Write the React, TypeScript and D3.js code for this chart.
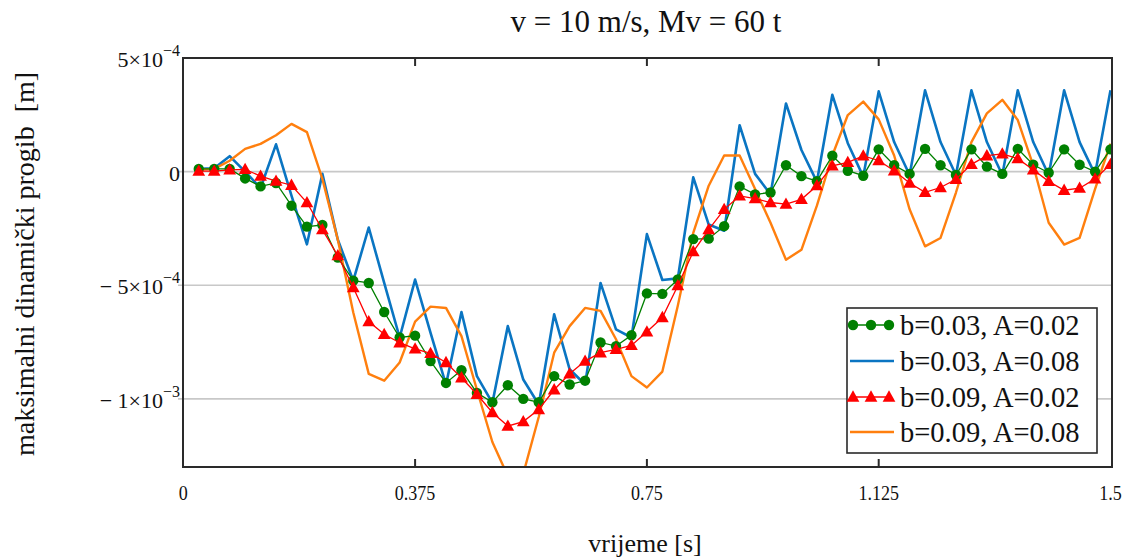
import React from "react";
import * as d3 from "d3";

// time samples: t = 0.025 * k, k = 1..60
const times: number[] = d3.range(1, 61).map((k) => +(0.025 * k).toFixed(3));

// values in units of 1e-4 m
const UNIT = 1e-4;
const b003A002: number[] = [
  0.12, 0.12, 0.12, -0.3, -0.65, -0.5, -1.5, -2.42, -2.35, -3.78,
  -4.8, -4.9, -6.18, -7.3, -7.22, -8.34, -9.3, -8.74, -9.74, -10.15,
  -9.4, -10.0, -10.15, -9.0, -9.37, -9.2, -7.52, -7.68, -7.2, -5.36,
  -5.38, -4.75, -2.97, -2.95, -2.4, -0.65, -1.0, -0.92, 0.28, -0.2,
  -0.42, 0.7, 0.04, -0.18, 0.98, 0.28, -0.1, 1.0, 0.28, -0.15,
  0.98, 0.22, -0.1, 1.0, 0.3, -0.05, 0.98, 0.3, 0.0, 0.98,
];
const b003A008: number[] = [
  0.12, 0.15, 0.68, 0.0, -0.72, 1.2, -1.06, -3.2, -0.1, -3.0,
  -4.8, -2.46, -4.9, -7.3, -4.75, -7.1, -9.37, -6.18, -9.0, -10.18,
  -6.8, -9.15, -10.25, -6.28, -8.7, -9.37, -4.9, -6.94, -7.3, -2.75,
  -4.77, -4.7, -0.25, -2.33, -2.6, 2.04, -0.1, -1.0, 3.0, 0.95,
  -0.45, 3.38, 1.25, -0.22, 3.53, 1.3, -0.15, 3.58, 1.3, -0.15,
  3.58, 1.3, -0.15, 3.58, 1.3, -0.15, 3.58, 1.3, -0.12, 3.58,
];
const b009A002: number[] = [
  0.02, 0.02, 0.08, 0.1, -0.2, -0.42, -0.6, -1.36, -2.55, -3.7,
  -5.1, -6.6, -7.16, -7.53, -7.8, -8.0, -8.4, -9.07, -9.8, -10.6,
  -11.2, -11.0, -10.47, -9.6, -8.9, -8.34, -7.97, -7.82, -7.65, -7.05,
  -6.42, -5.02, -3.52, -2.55, -1.66, -1.07, -1.19, -1.36, -1.43, -1.22,
  -0.62, 0.25, 0.41, 0.69, 0.49, 0.04, -0.5, -0.91, -0.7, -0.34,
  0.32, 0.7, 0.78, 0.57, 0.08, -0.43, -0.82, -0.73, -0.32, 0.32,
];
const b009A008: number[] = [
  0.09, 0.12, 0.48, 1.0, 1.22, 1.6, 2.1, 1.74, -0.32, -3.0,
  -6.2, -8.9, -9.2, -8.4, -6.6, -5.94, -6.0, -7.24, -9.6, -11.9,
  -13.4, -13.3, -10.8, -7.97, -6.8, -6.0, -6.13, -7.38, -9.0, -9.5,
  -8.8, -5.9, -2.7, -0.62, 0.71, 0.71, -0.77, -2.25, -3.88, -3.44,
  -1.5, 0.71, 2.49, 3.08, 2.3, 0.71, -1.66, -3.29, -2.92, -0.92,
  1.3, 2.56, 3.16, 2.27, 0.27, -2.25, -3.21, -2.92, -0.77, 1.23,
];

const seriesNames: string[] = [
  "b=0.03, A=0.02",
  "b=0.03, A=0.08",
  "b=0.09, A=0.02",
  "b=0.09, A=0.08",
];
const xTicks: number[] = [0, 0.375, 0.75, 1.125, 1.5];
const xTickLabels: string[] = ["0", "0.375", "0.75", "1.125", "1.5"];
const yTicks: number[] = [5e-4, 0, -5e-4, -1e-3];
const yTickMant: string[] = ["5×10", "0", "− 5×10", "− 1×10"];
const yTickExp: string[] = ["−4", "", "−4", "−3"];

const W = 1136;
const H = 558;
const L = 183;
const R = 1112;
const T = 58;
const B = 467;

const FONT = "'Liberation Serif', 'Times New Roman', serif";

export default function App() {
  const x = d3.scaleLinear().domain([0, 1.5]).range([183.3, 1110.5]);
  const y = d3.scaleLinear().domain([-1.3e-3, 5e-4]).range([B, T]);

  const mk = (vals: number[]) =>
    vals.map((v, i) => [times[i], v * UNIT] as [number, number]);
  const line = d3
    .line<[number, number]>()
    .x((d) => x(d[0]))
    .y((d) => y(d[1]));

  const green = mk(b003A002);
  const blue = mk(b003A008);
  const red = mk(b009A002);
  const orange = mk(b009A008);

  const GREEN = "#008000";
  const BLUE = "#0a75c2";
  const RED = "#ff0000";
  const ORANGE = "#ff7f0e";

  const tri = (cx: number, cy: number, s: number) =>
    `M${cx},${cy - s * 0.78} L${cx + s * 0.75},${cy + s * 0.55} L${cx - s * 0.75},${cy + s * 0.55} Z`;

  const legX = 847;
  const legY = 308;
  const legW = 250;
  const legH = 145;
  const rowY = [325, 361, 397, 432];

  return (
    <svg
      width={W}
      height={H}
      style={{ position: "absolute", left: 0, top: 0, background: "#fff" }}
      fontFamily={FONT}
    >
      <rect x={0} y={0} width={W} height={H} fill="#fff" />
      <defs>
        <clipPath id="plotclip">
          <rect x={L} y={T} width={R - L} height={B - T} />
        </clipPath>
      </defs>

      {/* title */}
      <text x={646} y={32} textAnchor="middle" fontSize={31} fill="#111">
        v = 10 m/s, Mv = 60 t
      </text>

      {/* grid lines */}
      {yTicks.slice(1).map((t, i) => (
        <line
          key={"g" + i}
          x1={L - 5}
          x2={R}
          y1={y(t)}
          y2={y(t)}
          stroke="#c8c8c8"
          strokeWidth={1.6}
        />
      ))}

      {/* series */}
      <g clipPath="url(#plotclip)">
        <path d={line(blue) || ""} fill="none" stroke={BLUE} strokeWidth={2.6} strokeLinejoin="round" />
        <path d={line(orange) || ""} fill="none" stroke={ORANGE} strokeWidth={2.4} strokeLinejoin="round" />
        <path d={line(green) || ""} fill="none" stroke={GREEN} strokeWidth={1.3} />
        {green.map((d, i) => (
          <circle key={"gc" + i} cx={x(d[0])} cy={y(d[1])} r={5.2} fill={GREEN} />
        ))}
        <path d={line(red) || ""} fill="none" stroke={RED} strokeWidth={1.3} />
        {red.map((d, i) => (
          <path key={"rt" + i} d={tri(x(d[0]), y(d[1]), 8.5)} fill={RED} />
        ))}
      </g>

      {/* frame */}
      <rect x={L} y={T} width={R - L} height={B - T} fill="none" stroke="#2a2a2a" strokeWidth={2} />

      {/* x ticks (inward, top and bottom) */}
      {xTicks.slice(1, -1).map((t, i) => (
        <g key={"xt" + i}>
          <line x1={x(t)} x2={x(t)} y1={T} y2={T + 8} stroke="#2a2a2a" strokeWidth={2} />
          <line x1={x(t)} x2={x(t)} y1={B} y2={B - 8} stroke="#2a2a2a" strokeWidth={2} />
        </g>
      ))}

      {/* x tick labels */}
      {xTicks.map((t, i) => (
        <text
          key={"xl" + i}
          x={x(t)}
          y={500}
          textAnchor="middle"
          fontSize={22}
          fill="#111"
          transform={`translate(${x(t)},0) scale(0.82,1) translate(${-x(t)},0)`}
        >
          {xTickLabels[i]}
        </text>
      ))}

      {/* y tick labels */}
      {yTicks.map((t, i) => (
        <text
          key={"yl" + i}
          x={180}
          y={y(t) + 9}
          textAnchor="end"
          fontSize={22}
          fill="#111"
        >
          {yTickMant[i]}
          {yTickExp[i] ? (
            <tspan fontSize={16} dy={-11}>
              {yTickExp[i]}
            </tspan>
          ) : null}
        </text>
      ))}

      {/* axis titles */}
      <text x={645} y={552} textAnchor="middle" fontSize={26} fill="#111">
        vrijeme [s]
      </text>
      <text
        transform={`translate(34,264) rotate(-90)`}
        textAnchor="middle"
        fontSize={28}
        fill="#111"
        style={{ whiteSpace: "pre" }}
      >
        {"maksimalni dinamički progib  [m]"}
      </text>

      {/* legend */}
      <rect x={legX} y={legY} width={legW} height={legH} fill="#fff" stroke="#2a2a2a" strokeWidth={1.6} />
      <g>
        <line x1={851} x2={891} y1={rowY[0]} y2={rowY[0]} stroke={GREEN} strokeWidth={1.3} />
        {[853, 871, 889].map((cx, i) => (
          <circle key={"lg" + i} cx={cx} cy={rowY[0]} r={5.2} fill={GREEN} />
        ))}
        <line x1={850} x2={894} y1={rowY[1]} y2={rowY[1]} stroke={BLUE} strokeWidth={2.6} />
        <line x1={851} x2={891} y1={rowY[2]} y2={rowY[2]} stroke={RED} strokeWidth={1.3} />
        {[853, 871, 889].map((cx, i) => (
          <path key={"lr" + i} d={tri(cx, rowY[2], 8.5)} fill={RED} />
        ))}
        <line x1={850} x2={894} y1={rowY[3]} y2={rowY[3]} stroke={ORANGE} strokeWidth={2.6} />
        {seriesNames.map((s, i) => (
          <text key={"lt" + i} x={900} y={rowY[i] + 10} fontSize={28.5} fill="#111">
            {s}
          </text>
        ))}
      </g>
    </svg>
  );
}
